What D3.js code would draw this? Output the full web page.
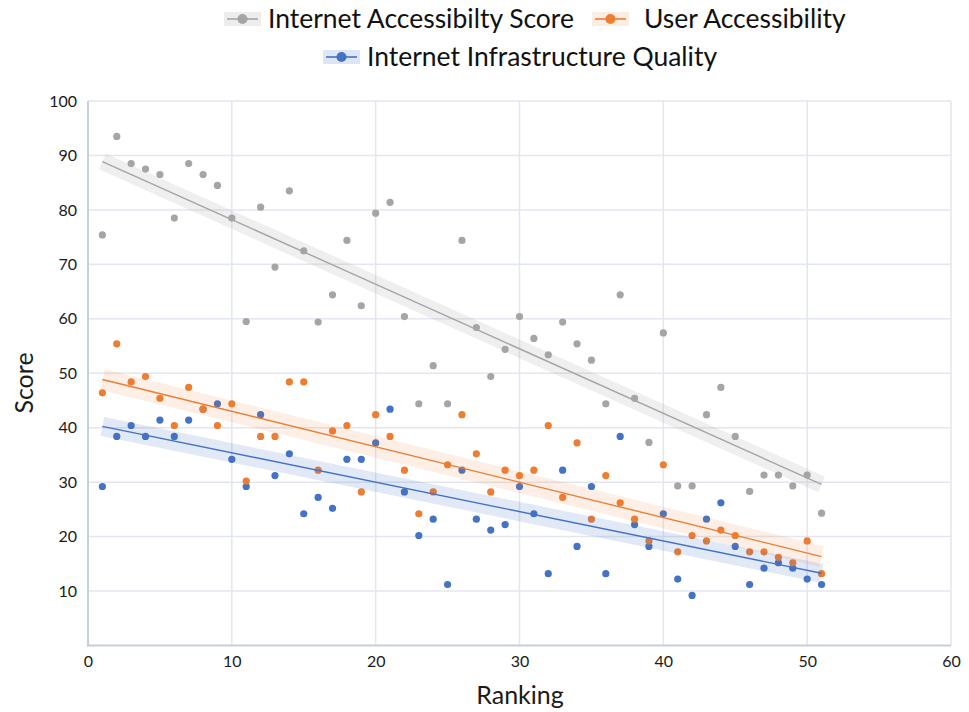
<!DOCTYPE html>
<html><head><meta charset="utf-8">
<script src="https://cdn.jsdelivr.net/npm/d3@7"></script>
<style>body{margin:0;background:#fff}</style>
</head><body><svg id="c" width="969" height="712"></svg>
<script>
const ranking = [1,2,3,4,5,6,7,8,9,10,11,12,13,14,15,16,17,18,19,20,21,22,23,24,25,26,27,28,29,30,31,32,33,34,35,36,37,38,39,40,41,42,43,44,45,46,47,48,49,50,51];
const internetScore = [75.4,93.5,88.5,87.5,86.5,78.5,88.5,86.5,84.5,78.5,59.5,80.5,69.5,83.5,72.5,59.4,64.4,74.4,62.4,79.4,81.4,60.4,44.4,51.4,44.4,74.4,58.4,49.4,54.4,60.4,56.4,53.4,59.4,55.4,52.4,44.4,64.4,45.4,37.3,57.4,29.3,29.3,42.4,47.4,38.4,28.3,31.3,31.3,29.3,31.3,24.3];
const userAccess = [46.4,55.4,48.4,49.4,45.4,40.4,47.4,43.4,40.4,44.4,30.2,38.4,38.4,48.4,48.4,32.2,39.4,40.4,28.2,42.4,38.4,32.2,24.2,28.2,33.2,42.4,35.2,28.2,32.2,31.2,32.2,40.4,27.2,37.2,23.2,31.2,26.2,23.2,19.2,33.2,17.2,20.2,19.2,21.2,20.2,17.2,17.2,16.2,15.2,19.2,13.2];
const infraQuality = [29.2,38.4,40.4,38.4,41.4,38.4,41.4,43.4,44.4,34.2,29.2,42.4,31.2,35.2,24.2,27.2,25.2,34.2,34.2,37.2,43.4,28.2,20.2,23.2,11.2,32.2,23.2,21.2,22.2,29.2,24.2,13.2,32.2,18.2,29.2,13.2,38.4,22.2,18.2,24.2,12.2,9.2,23.2,26.2,18.2,11.2,14.2,15.2,14.2,12.2,11.2];
const seriesNames = ["Internet Accessibilty Score","User Accessibility","Internet Infrastructure Quality"];
const seriesColors = ["#a5a5a5","#ed7d31","#4472c4"];
const bandOpacity = [0.18,0.12,0.16];
const bandWidth = [17,21,19];
const xTicks = [0,10,20,30,40,50,60];
const yTicks = [10,20,30,40,50,60,70,80,90,100];

const series = [internetScore, userAccess, infraQuality].map((vals,i)=>({
  name: seriesNames[i], color: seriesColors[i], values: vals,
  pts: ranking.map((r,j)=>({x:r, y:vals[j]}))
}));

const svg = d3.select("#c");
const x = d3.scaleLinear().domain([0,60]).range([88,951]);
const y = d3.scaleLinear().domain([0,100]).range([645.5,101]);
const FONT = "Lato, 'Open Sans', sans-serif";

// grid
svg.append("g").selectAll("line.v").data(xTicks.filter(d=>d>0)).join("line")
  .attr("x1",d=>x(d)).attr("x2",d=>x(d)).attr("y1",y(0)).attr("y2",y(100))
  .attr("stroke","#e2e7ef").attr("stroke-width",1.5);
svg.append("g").selectAll("line.h").data(yTicks).join("line")
  .attr("x1",x(0)).attr("x2",x(60)).attr("y1",d=>y(d)).attr("y2",d=>y(d))
  .attr("stroke","#e2e7ef").attr("stroke-width",1.5);

// axis lines
svg.append("line").attr("x1",x(0)).attr("x2",x(0)).attr("y1",y(100)).attr("y2",y(0)+1)
  .attr("stroke","#c6cfdc").attr("stroke-width",2);
svg.append("line").attr("x1",x(0)-1).attr("x2",x(60)).attr("y1",y(0)).attr("y2",y(0))
  .attr("stroke","#c6cfdc").attr("stroke-width",2);

// tick labels
const ya = svg.append("g").attr("transform",`translate(${x(0)},0)`)
  .call(d3.axisLeft(y).tickValues(yTicks).tickSize(0).tickPadding(11).tickFormat(d3.format("d")));
ya.select(".domain").remove();
ya.selectAll("text").attr("font-family",FONT).attr("font-size",16).attr("fill","#1a1a1a");
const xa = svg.append("g").attr("transform",`translate(0,${y(0)})`)
  .call(d3.axisBottom(x).tickValues(xTicks).tickSize(0).tickPadding(10).tickFormat(d3.format("d")));
xa.select(".domain").remove();
xa.selectAll("text").attr("font-family",FONT).attr("font-size",16).attr("fill","#1a1a1a");

// axis titles
svg.append("text").attr("transform",`translate(23,383) rotate(-90)`).attr("text-anchor","middle")
  .attr("dominant-baseline","central").attr("font-family",FONT).attr("font-size",25).attr("fill","#1a1a1a").text("Score");
svg.append("text").attr("x",520).attr("y",704).attr("text-anchor","middle")
  .attr("font-family",FONT).attr("font-size",25).attr("fill","#1a1a1a").text("Ranking");

// points (drawn in reverse order)
series.slice().reverse().forEach(s=>{
  svg.append("g").selectAll("circle").data(s.pts).join("circle")
    .attr("cx",d=>x(d.x)).attr("cy",d=>y(d.y)).attr("r",3.6).attr("fill",s.color);
});

// regression
function linreg(pts){
  const mx=d3.mean(pts,d=>d.x), my=d3.mean(pts,d=>d.y);
  let sxy=0,sxx=0; pts.forEach(d=>{sxy+=(d.x-mx)*(d.y-my); sxx+=(d.x-mx)**2;});
  const m=sxy/sxx; return {m, b: my-m*mx};
}
const x0 = d3.min(ranking), x1 = d3.max(ranking);
series.forEach((s,i)=>{
  const r = linreg(s.pts);
  s.fit = [x0,x1].map(v=>({x:v, y:r.m*v+r.b}));
});
const line = d3.line().x(d=>x(d.x)).y(d=>y(d.y));
series.forEach((s,i)=>{
  svg.append("path").attr("d",line(s.fit)).attr("fill","none").attr("stroke",s.color)
    .attr("stroke-opacity",bandOpacity[i]).attr("stroke-width",bandWidth[i]).attr("stroke-linecap","butt");
});
series.forEach((s,i)=>{
  svg.append("path").attr("d",line(s.fit)).attr("fill","none").attr("stroke",s.color)
    .attr("stroke-width",1.4);
});

// legend
const lg = svg.append("g");
const rows = [{y:19, start:224, items:[0,1]}, {y:57, start:323, items:[2]}];
const textGap = [44, 52, 44];
const probe = lg.append("text").attr("font-family",FONT).attr("font-size",26).text(seriesNames[0]);
const w0 = probe.node().getComputedTextLength();
probe.remove();
const lfs = 26*306/w0;
rows.forEach(row=>{
  let cx = row.start;
  row.items.forEach(i=>{
    const g = lg.append("g");
    g.append("rect").attr("x",cx).attr("y",row.y-7).attr("width",37).attr("height",14)
      .attr("fill",seriesColors[i]).attr("fill-opacity",bandOpacity[i]+0.02);
    g.append("line").attr("x1",cx+3).attr("x2",cx+34).attr("y1",row.y).attr("y2",row.y)
      .attr("stroke",seriesColors[i]).attr("stroke-width",1.6);
    g.append("circle").attr("cx",cx+18.5).attr("cy",row.y).attr("r",5).attr("fill",seriesColors[i]);
    const t = g.append("text").attr("x",cx+textGap[i]).attr("y",row.y).attr("dy","0.35em")
      .attr("font-family",FONT).attr("font-size",lfs).attr("fill","#111").text(seriesNames[i]);
    cx += textGap[i] + t.node().getComputedTextLength() + 18;
  });
});
</script></body></html>
